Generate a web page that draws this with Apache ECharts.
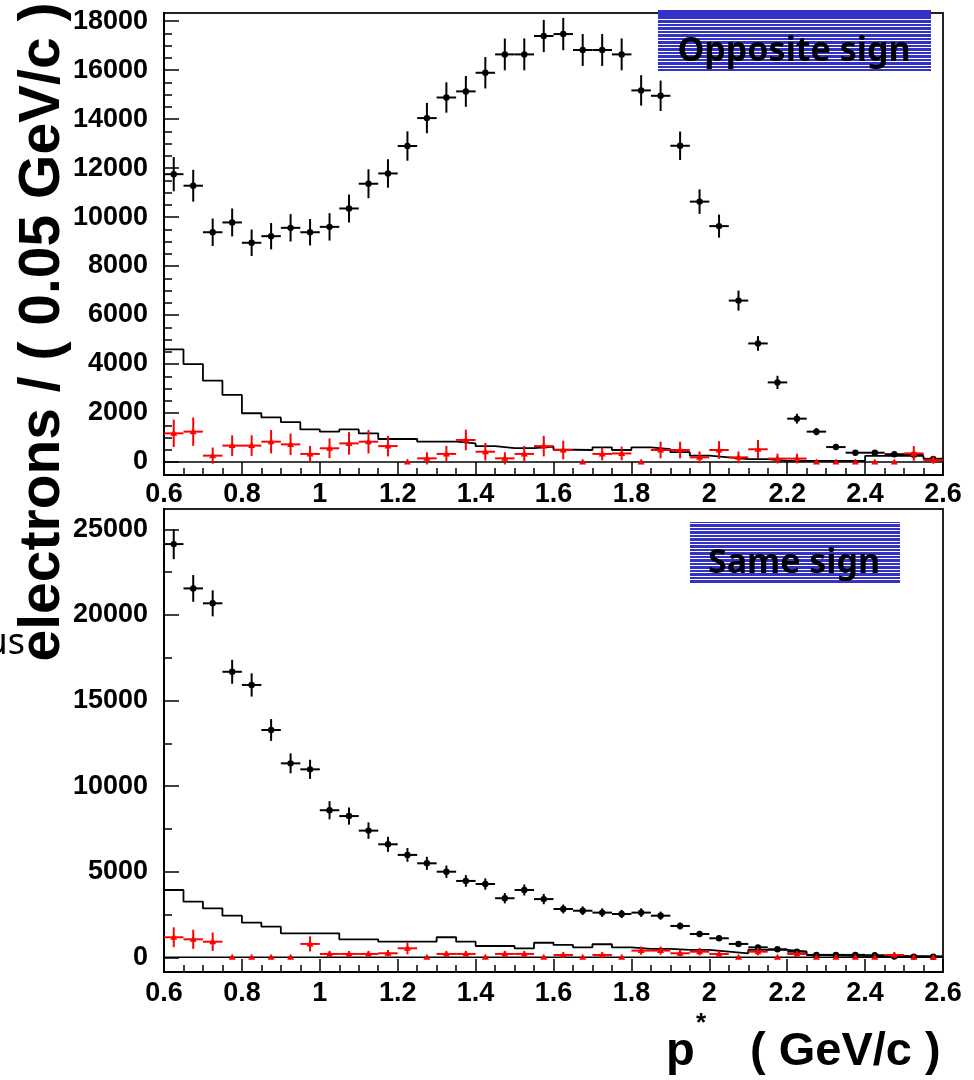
<!DOCTYPE html>
<html>
<head>
<meta charset="utf-8">
<script src="https://cdn.jsdelivr.net/npm/echarts@6/dist/echarts.min.js"></script>
<style>
  html, body { margin: 0; padding: 0; background: #ffffff; }
  #chart { width: 974px; height: 1080px; }
</style>
</head>
<body>
<div id="chart"></div>
<script>
// Bin centres of p* (GeV/c), 0.05 GeV/c wide bins from 0.6 to 2.6
const pCenters = [0.625, 0.675, 0.725, 0.775, 0.825, 0.875, 0.925, 0.975, 1.025, 1.075,
                  1.125, 1.175, 1.225, 1.275, 1.325, 1.375, 1.425, 1.475, 1.525, 1.575,
                  1.625, 1.675, 1.725, 1.775, 1.825, 1.875, 1.925, 1.975, 2.025, 2.075,
                  2.125, 2.175, 2.225, 2.275, 2.325, 2.375, 2.425, 2.475, 2.525, 2.575];
const BIN_HALF = 0.025;

// Opposite-sign sample
const osData = [11750, 11280, 9380, 9780, 8950, 9220, 9560, 9380, 9600, 10350,
                11360, 11780, 12900, 14040, 14880, 15130, 15890, 16640, 16640, 17390,
                17470, 16820, 16820, 16640, 15170, 14950, 12910, 10630, 9630, 6590,
                4840, 3250, 1770, 1240, 610, 380, 380, 320, 300, 130];
const osErr  = [700, 650, 560, 570, 540, 540, 560, 540, 560, 570,
                590, 580, 600, 620, 620, 630, 640, 650, 650, 660,
                660, 650, 650, 650, 620, 620, 580, 500, 470, 410,
                300, 270, 200, 150, 110, 90, 80, 80, 70, 50];
const osHist = [4600, 4000, 3320, 2740, 1990, 1820, 1630, 1330, 1240, 1330,
                1170, 940, 940, 830, 830, 760, 650, 570, 570, 630,
                500, 490, 600, 490, 600, 530, 400, 260, 190, 120,
                120, 50, 50, 50, 50, 50, 250, 250, 250, 130];
const osRed  = [1170, 1240, 260, 670, 670, 830, 720, 330, 560, 760,
                830, 650, 0, 150, 330, 900, 420, 150, 330, 650,
                490, 0, 330, 350, 0, 490, 490, 190, 490, 190,
                520, 140, 140, 0, 0, 0, 0, 0, 350, 80];
const osRedErr = [560, 580, 330, 420, 420, 480, 440, 330, 400, 460,
                  480, 420, 0, 250, 330, 420, 360, 250, 330, 420,
                  380, 0, 260, 280, 0, 340, 340, 240, 360, 240,
                  380, 200, 200, 0, 0, 0, 0, 0, 300, 150];

// Same-sign sample
const ssData = [24140, 21550, 20680, 16680, 15910, 13280, 11330, 10980, 8590, 8250,
                7400, 6600, 5980, 5490, 5000, 4460, 4280, 3450, 3930, 3400,
                2820, 2720, 2610, 2530, 2610, 2430, 1830, 1360, 1110, 780,
                580, 470, 330, 140, 140, 140, 120, 40, 40, 30];
const ssErr  = [880, 780, 760, 700, 680, 640, 580, 560, 530, 500,
                480, 440, 400, 380, 360, 340, 330, 300, 320, 300,
                260, 250, 250, 240, 250, 240, 210, 180, 160, 140,
                120, 110, 90, 60, 60, 60, 50, 40, 40, 30];
const ssHist = [3930, 3250, 2860, 2430, 2020, 1790, 1400, 1400, 1400, 1050,
                1050, 910, 910, 910, 1170, 910, 660, 660, 525, 850,
                720, 580, 760, 580, 490, 490, 430, 430, 330, 230,
                430, 430, 330, 130, 100, 80, 70, 60, 60, 50];
const ssRed  = [1170, 1050, 910, 0, 0, 0, 0, 780, 195, 195,
                195, 234, 525, 0, 195, 195, 0, 195, 195, 0,
                136, 0, 136, 0, 390, 390, 234, 327, 195, 0,
                327, 0, 195, 0, 0, 0, 0, 136, 0, 0];
const ssRedErr = [580, 560, 540, 0, 0, 0, 0, 440, 170, 170,
                  170, 190, 350, 0, 170, 170, 0, 170, 170, 0,
                  160, 0, 160, 0, 240, 240, 200, 220, 170, 0,
                  220, 0, 170, 0, 0, 0, 0, 160, 0, 0];

// Axis ticks and labels
const xMajorTicks = [0.6, 0.8, 1.0, 1.2, 1.4, 1.6, 1.8, 2.0, 2.2, 2.4, 2.6];
const yMajorTop = [0, 2000, 4000, 6000, 8000, 10000, 12000, 14000, 16000, 18000];
const yMajorBottom = [0, 5000, 10000, 15000, 20000, 25000];
const topRange = { min: -530, max: 18330 };
const bottomRange = { min: -860, max: 26190 };

const xMinorTicks = [];
for (let k = 0; k <= 40; k++) xMinorTicks.push(+(0.6 + k * 0.05).toFixed(2));
const yMinorTop = [];
for (let v = 0; v <= 18000; v += 500) yMinorTop.push(v);
const yMinorBottom = [];
for (let v = 0; v <= 25000; v += 2500) yMinorBottom.push(v);

const labelFont = { fontFamily: '"Liberation Sans", Arial, sans-serif', fontWeight: 'bold', fontSize: 27, color: '#000' };

function points(values, errs) {
  return pCenters.map((c, i) => [c, values[i], errs[i]]);
}
function stepLine(values) {
  const pts = pCenters.map((c, i) => [+(c - BIN_HALF).toFixed(3), values[i]]);
  pts.push([2.6, values[values.length - 1]]);
  return pts;
}

// Error-bar marker: horizontal bar across the bin, vertical bar for the error, marker at the value
function errorBarRenderer(color, markerKind) {
  return function (params, api) {
    const x = api.value(0), y = api.value(1), e = api.value(2);
    const c = api.coord([x, y]);
    const children = [];
    const ls = { stroke: color, lineWidth: 2 };
    if (e > 0) {
      const l = api.coord([x - BIN_HALF, y]);
      const r = api.coord([x + BIN_HALF, y]);
      const t = api.coord([x, y + e]);
      const b = api.coord([x, y - e]);
      children.push({ type: 'line', shape: { x1: l[0], y1: c[1], x2: r[0], y2: c[1] }, style: ls });
      children.push({ type: 'line', shape: { x1: c[0], y1: t[1], x2: c[0], y2: b[1] }, style: ls });
    }
    if (markerKind === 'circle') {
      children.push({ type: 'circle', shape: { cx: c[0], cy: c[1], r: 3.2 }, style: { fill: color } });
    } else {
      children.push({ type: 'polygon', shape: { points: [[c[0], c[1] - 3.5], [c[0] - 3.5, c[1] + 2.5], [c[0] + 3.5, c[1] + 2.5]] }, style: { fill: color } });
    }
    return { type: 'group', children: children };
  };
}

function xAxes(gridIndex, margin) {
  return [
    {
      type: 'value', gridIndex: gridIndex, min: 0.6, max: 2.6, position: 'bottom',
      axisLine: { show: true, onZero: false, lineStyle: { color: '#000', width: 2 } },
      axisTick: { show: true, inside: true, length: 13, customValues: xMajorTicks, lineStyle: { color: '#000', width: 1.5 } },
      axisLabel: Object.assign({ customValues: xMajorTicks, margin: margin, formatter: v => String(+(+v).toFixed(1)) }, labelFont),
      splitLine: { show: false }
    },
    {
      type: 'value', gridIndex: gridIndex, min: 0.6, max: 2.6, position: 'bottom',
      axisLine: { show: false, onZero: false },
      axisTick: { show: true, inside: true, length: 7, customValues: xMinorTicks, lineStyle: { color: '#000', width: 1.5 } },
      axisLabel: { show: false },
      splitLine: { show: false }
    }
  ];
}
function yAxes(gridIndex, range, major, minor) {
  return [
    {
      type: 'value', gridIndex: gridIndex, min: range.min, max: range.max, position: 'left',
      axisLine: { show: true, onZero: false, lineStyle: { color: '#000', width: 2 } },
      axisTick: { show: true, inside: true, length: 15, customValues: major, lineStyle: { color: '#000', width: 1.5 } },
      axisLabel: Object.assign({ customValues: major, margin: 16, formatter: v => String(Math.round(v)) }, labelFont),
      splitLine: { show: false }
    },
    {
      type: 'value', gridIndex: gridIndex, min: range.min, max: range.max, position: 'left',
      axisLine: { show: false, onZero: false },
      axisTick: { show: true, inside: true, length: 8, customValues: minor, lineStyle: { color: '#000', width: 1.5 } },
      axisLabel: { show: false },
      splitLine: { show: false }
    }
  ];
}

function panelSeries(xi, yi, data, err, hist, red, redErr) {
  return [
    { type: 'line', xAxisIndex: xi, yAxisIndex: yi, data: [[0.6, 0], [2.6, 0]], symbol: 'none',
      lineStyle: { color: '#000', width: 1.5 }, silent: true, z: 2 },
    { type: 'line', xAxisIndex: xi, yAxisIndex: yi, data: stepLine(hist), step: 'end', symbol: 'none',
      lineStyle: { color: '#000', width: 1.8 }, silent: true, z: 3 },
    { type: 'custom', xAxisIndex: xi, yAxisIndex: yi, data: points(data, err),
      encode: { x: 0, y: 1 }, renderItem: errorBarRenderer('#000000', 'circle'), z: 4 },
    { type: 'custom', xAxisIndex: xi, yAxisIndex: yi, data: points(red, redErr),
      encode: { x: 0, y: 1 }, renderItem: errorBarRenderer('#ff0000', 'triangle'), z: 5 }
  ];
}

// Hatched legend fill: blue with thin white horizontal lines
const hatch = document.createElement('canvas');
hatch.width = 4; hatch.height = 7;
(function () {
  const ctx = hatch.getContext('2d');
  ctx.fillStyle = '#3232c8';
  ctx.fillRect(0, 0, 4, 7);
  ctx.fillStyle = '#ffffff';
  ctx.fillRect(0, 2, 4, 1);
  ctx.fillRect(0, 5, 4, 1);
})();

const chart = echarts.init(document.getElementById('chart'), null, { renderer: 'canvas' });

const option = {
  animation: false,
  backgroundColor: '#ffffff',
  grid: [
    { left: 164, right: 31, top: 13, height: 462, show: true, borderColor: '#222', borderWidth: 2, backgroundColor: 'transparent' },
    { left: 164, right: 31, top: 509, height: 463, show: true, borderColor: '#222', borderWidth: 2, backgroundColor: 'transparent' }
  ],
  xAxis: xAxes(0, 6).concat(xAxes(1, 8)),
  yAxis: yAxes(0, topRange, yMajorTop, yMinorTop).concat(yAxes(1, bottomRange, yMajorBottom, yMinorBottom)),
  series: panelSeries(0, 0, osData, osErr, osHist, osRed, osRedErr)
    .concat(panelSeries(2, 2, ssData, ssErr, ssHist, ssRed, ssRedErr)),
  graphic: [
    // legend boxes
    { type: 'rect', shape: { x: 658, y: 10, width: 273, height: 61 }, style: { fill: { image: hatch, repeat: 'repeat' } }, z: 10 },
    { type: 'rect', shape: { x: 658, y: 10, width: 273, height: 7 }, style: { fill: '#3232c8' }, z: 10 },
    { type: 'text', x: 794, y: 51, z: 11,
      style: { text: 'Opposite sign', fill: '#000', font: 'bold 34px "Noto Sans", "Open Sans", sans-serif', textAlign: 'center', textVerticalAlign: 'middle' } },
    { type: 'rect', shape: { x: 690, y: 522, width: 210, height: 61 }, style: { fill: { image: hatch, repeat: 'repeat' } }, z: 10 },
    { type: 'text', x: 794, y: 563, z: 11,
      style: { text: 'Same sign', fill: '#000', font: 'bold 34px "Noto Sans", "Open Sans", sans-serif', textAlign: 'center', textVerticalAlign: 'middle' } },
    // axis titles
    { type: 'text', x: 43, y: 332, rotation: Math.PI / 2, z: 11,
      style: { text: 'electrons / ( 0.05 GeV/c )', fill: '#000', font: 'bold 57px "Liberation Sans", Arial, sans-serif', textAlign: 'center', textVerticalAlign: 'middle' } },
    { type: 'text', x: 25, y: 644, z: 11,
      style: { text: 'us', fill: '#000', font: '36px "Noto Sans", sans-serif', textAlign: 'right', textVerticalAlign: 'middle' } },
    { type: 'text', x: 666, y: 1052, z: 11,
      style: { text: 'p', fill: '#000', font: 'bold 47px "Liberation Sans", Arial, sans-serif', textAlign: 'left', textVerticalAlign: 'middle' } },
    { type: 'text', x: 701, y: 1024, z: 11,
      style: { text: '*', fill: '#000', font: 'bold 26px "Liberation Sans", Arial, sans-serif', textAlign: 'center', textVerticalAlign: 'middle' } },
    { type: 'text', x: 750, y: 1052, z: 11,
      style: { text: '( GeV/c )', fill: '#000', font: 'bold 47px "Liberation Sans", Arial, sans-serif', textAlign: 'left', textVerticalAlign: 'middle' } }
  ]
};

chart.setOption(option);
</script>
</body>
</html>
